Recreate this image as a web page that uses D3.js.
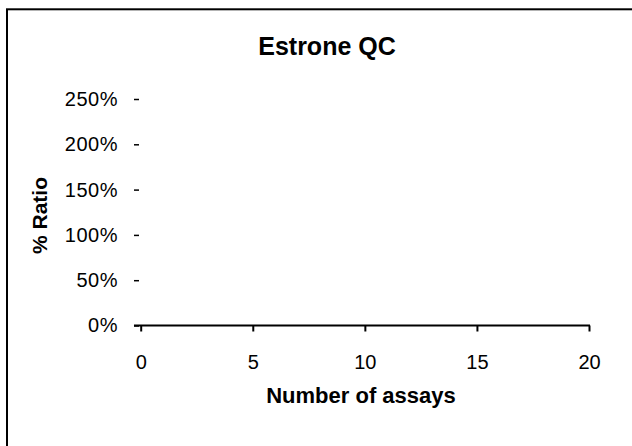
<!DOCTYPE html>
<html>
<head>
<meta charset="utf-8">
<script src="https://cdn.jsdelivr.net/npm/d3@7"></script>
<style>
	body { margin: 0; background: #fff; }
	text { font-family: "Liberation Sans", Arial, sans-serif; fill: #000; }
</style>
</head>
<body>
<svg id="chart" width="632" height="446"></svg>
<script>
// chart values
const chart_title = "Estrone QC";
const x_label = "Number of assays";
const y_label = "% Ratio";
const x_ticks = [0, 5, 10, 15, 20];
const y_ticks = [0, 0.5, 1, 1.5, 2, 2.5];
const x_domain = [0, 20];
const y_domain = [0, 2.5];
const axis_start = -0.3; // where the y axis crosses

const svg = d3.select('#chart');

// outer frame (runs off the right and bottom edges)
svg.append('rect')
	.attr('x', 7)
	.attr('y', 9.3)
	.attr('width', 700)
	.attr('height', 500)
	.style('fill', 'none')
	.style('stroke', 'black')
	.style('stroke-width', 2);

const x = d3.scaleLinear().domain(x_domain).range([140.7, 589]);
const y = d3.scaleLinear().domain(y_domain).range([325.5, 99]);

// x axis
const x_axis = d3.axisBottom(x)
	.tickValues(x_ticks)
	.tickSize(6)
	.tickPadding(23)
	.tickFormat(d3.format("d"));

const xg = svg.append('g')
	.attr('transform', 'translate(0,' + y(0) + ')')
	.call(x_axis);
xg.select('.domain').remove();
xg.selectAll('.tick line').style('stroke', 'black').style('stroke-width', 2);
xg.selectAll('.tick text')
	.style('font-size', '20px')
	.style('font-family', '"Liberation Sans", Arial, sans-serif');

svg.append('line')
	.attr('x1', x(axis_start))
	.attr('x2', x(x_domain[1]) + 1)
	.attr('y1', y(0))
	.attr('y2', y(0))
	.style('stroke', 'black')
	.style('stroke-width', 2);

// y axis (no spine, only small dashes)
const y_axis = d3.axisLeft(y)
	.tickValues(y_ticks)
	.tickSize(5)
	.tickPadding(16)
	.tickFormat(d3.format(".0%"));

const yg = svg.append('g')
	.attr('transform', 'translate(139,0)')
	.call(y_axis);
yg.select('.domain').remove();
yg.selectAll('.tick line').style('stroke', 'black').style('stroke-width', 1.5);
yg.selectAll('.tick text')
	.style('font-size', '20px')
	.style('letter-spacing', '0.5px')
	.style('font-family', '"Liberation Sans", Arial, sans-serif');

// titles
svg.append('text')
	.attr('x', 327)
	.attr('y', 55)
	.attr('text-anchor', 'middle')
	.style('font-size', '25px')
	.style('font-weight', 'bold')
	.text(chart_title);

svg.append('text')
	.attr('x', 361)
	.attr('y', 403)
	.attr('text-anchor', 'middle')
	.style('font-size', '22px')
	.style('font-weight', 'bold')
	.text(x_label);

svg.append('text')
	.attr('transform', 'translate(47,215.5) rotate(-90)')
	.attr('text-anchor', 'middle')
	.style('font-size', '21px')
	.style('font-weight', 'bold')
	.text(y_label);
</script>
</body>
</html>
